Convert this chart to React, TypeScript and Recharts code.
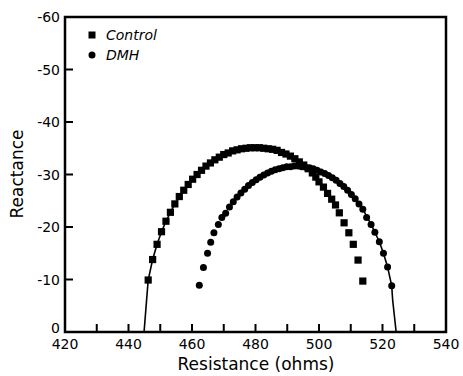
import React from "react";
import {
  ScatterChart,
  Scatter,
  XAxis,
  YAxis,
  ReferenceArea,
} from "recharts";

// Control (squares)
const controlX = [
  446.2, 447.6, 449.0, 450.4, 451.8, 453.2, 454.6, 456.0, 457.4, 458.8, 460.2,
  461.6, 463.0, 464.4, 465.8, 467.2, 468.6, 470.0, 471.4, 472.8, 474.2, 475.6,
  477.0, 478.4, 479.8, 481.2, 482.6, 484.0, 485.4, 486.8, 488.2, 489.6, 491.0,
  492.4, 493.8, 495.2, 496.6, 497.9, 499.0, 500.0, 501.4, 502.7, 504.0, 505.2,
  506.4, 507.9, 509.4, 510.8, 512.3, 513.8,
];
const controlY = [
  -9.9, -13.8, -16.7, -19.1, -21.1, -22.8, -24.4, -25.8, -27.0, -28.1, -29.1,
  -30.0, -30.8, -31.6, -32.2, -32.8, -33.3, -33.8, -34.1, -34.5, -34.7, -34.9,
  -35.0, -35.1, -35.1, -35.1, -35.0, -34.9, -34.8, -34.6, -34.2, -33.9, -33.5,
  -33.0, -32.4, -31.8, -31.1, -30.3, -29.5, -28.6, -27.6, -26.4, -25.3, -24.2,
  -22.7, -20.8, -18.9, -16.7, -13.7, -9.7,
];

// DMH (circles)
const dmhX = [
  462.3, 463.6, 464.9, 465.9, 466.9, 468.3, 469.4, 470.6, 471.8, 473.0, 474.2,
  475.4, 476.6, 477.8, 479.0, 480.2, 481.4, 482.6, 483.8, 485.0, 486.2, 487.4,
  488.6, 489.8, 491.0, 492.2, 493.4, 494.6, 495.8, 497.0, 498.2, 499.4, 500.6,
  501.8, 503.0, 504.2, 505.4, 506.6, 507.8, 509.0, 510.2, 511.4, 512.6, 513.8,
  515.0, 516.4, 517.6, 519.0, 520.3, 521.6, 522.9,
];
const dmhY = [
  -8.9, -12.3, -15.0, -17.1, -18.9, -20.5, -21.8, -22.6, -23.8, -24.8, -25.7,
  -26.5, -27.2, -27.9, -28.5, -29.0, -29.5, -29.9, -30.3, -30.6, -30.9, -31.1,
  -31.3, -31.5, -31.5, -31.6, -31.6, -31.5, -31.4, -31.3, -31.1, -30.8, -30.5,
  -30.2, -29.8, -29.4, -28.9, -28.3, -27.7, -27.0, -26.2, -25.4, -24.4, -23.4,
  -21.8, -20.5, -19.0, -17.2, -15.0, -12.4, -8.8,
];

// solid curve drawn through the outer points
const fitX = [
  444.9, 445.7, 446.2, 447.6, 449.0, 450.4, 451.8, 454.6, 458.8, 463.0, 467.2,
  471.4, 475.6, 479.8, 484.0, 488.2, 492.4, 495.8, 499.4, 503.0, 506.6, 510.2,
  513.8, 516.4, 517.6, 519.0, 520.3, 521.6, 522.9, 523.2, 524.3,
];
const fitY = [
  0, -6.1, -9.9, -13.8, -16.7, -19.1, -21.1, -24.4, -28.1, -30.8, -32.8, -34.1,
  -34.9, -35.1, -34.9, -34.2, -33.0, -31.4, -30.8, -29.8, -28.3, -26.2, -23.4,
  -20.5, -19.0, -17.2, -15.0, -12.4, -8.8, -6.1, 0,
];

const xTicks = [420, 430, 440, 450, 460, 470, 480, 490, 500, 510, 520, 530, 540];
const yTicks = [-60, -50, -40, -30, -20, -10, 0];
const seriesNames = ["Control", "DMH"];

const zip = (xs: number[], ys: number[]) => xs.map((x, i) => ({ x, y: ys[i] }));
const controlData = zip(controlX, controlY);
const dmhData = zip(dmhX, dmhY);
const fitData = zip(fitX, fitY);

const FONT = "'DejaVu Sans', sans-serif";

const XTick = (props: any) => {
  const { x, y, payload } = props;
  const v = payload.value;
  return (
    <g>
      {v !== 420 && v !== 540 && (
        <line x1={x} x2={x} y1={y} y2={y - 8} stroke="#000" strokeWidth={2} />
      )}
      {v % 20 === 0 && (
        <text x={x} y={y + 17} textAnchor="middle" fontSize={14} fontFamily={FONT} fill="#000">
          {v}
        </text>
      )}
    </g>
  );
};

const YTick = (props: any) => {
  const { x, y, payload } = props;
  const v = payload.value;
  return (
    <g>
      {v !== 0 && v !== -60 && (
        <line x1={x} x2={x + 8} y1={y} y2={y} stroke="#000" strokeWidth={2} />
      )}
      <text
        x={x - 5}
        y={v === 0 ? y + 1 : y + 5}
        textAnchor="end"
        fontSize={14}
        fontFamily={FONT}
        fill="#000"
      >
        {v}
      </text>
    </g>
  );
};

const Square = (p: any) => (
  <rect x={p.cx - 3.6} y={p.cy - 3.6} width={7.2} height={7.2} fill="#000" />
);
const Dot = (p: any) => <circle cx={p.cx} cy={p.cy} r={3.5} fill="#000" />;
const Nothing = () => <g />;

export default function App() {
  return (
    <div
      style={{
        position: "absolute",
        left: 0,
        top: 0,
        width: 463,
        height: 376,
        background: "#fff",
        fontFamily: FONT,
      }}
    >
      <ScatterChart
        width={463}
        height={376}
        margin={{ top: 17, right: 17, bottom: 0, left: 5 }}
      >
        <XAxis
          type="number"
          dataKey="x"
          domain={[420, 540]}
          ticks={xTicks}
          interval={0}
          tickSize={0}
          tickMargin={0}
          tickLine={false}
          axisLine={false}
          tick={<XTick />}
          height={44}
          allowDataOverflow
          label={{
            content: () => (
              <text
                x={256}
                y={370}
                textAnchor="middle"
                fontSize={17}
                fontFamily={FONT}
                fill="#000"
              >
                Resistance (ohms)
              </text>
            ),
          }}
        />
        <YAxis
          type="number"
          dataKey="y"
          domain={[-60, 0]}
          reversed
          ticks={yTicks}
          interval={0}
          tickSize={0}
          tickMargin={0}
          tickLine={false}
          axisLine={false}
          tick={<YTick />}
          width={60}
          allowDataOverflow
          label={{
            content: () => (
              <text
                x={23}
                y={174}
                transform="rotate(-90 23 174)"
                textAnchor="middle"
                fontSize={17}
                fontFamily={FONT}
                fill="#000"
              >
                Reactance
              </text>
            ),
          }}
        />
        <ReferenceArea
          x1={420}
          x2={540}
          y1={-60}
          y2={0}
          fill="#fff"
          fillOpacity={0}
          stroke="#000"
          strokeWidth={2.5}
        />
        <Scatter
          name="fit"
          data={fitData}
          line={{ stroke: "#000", strokeWidth: 1.6 }}
          shape={<Nothing />}
          legendType="none"
          isAnimationActive={false}
        />
        <Scatter
          name="Control"
          data={controlData}
          fill="#000"
          shape={<Square />}
          isAnimationActive={false}
        />
        <Scatter
          name="DMH"
          data={dmhData}
          fill="#000"
          shape={<Dot />}
          isAnimationActive={false}
        />
      </ScatterChart>
      <div style={{ position: "absolute", left: 88, top: 25 }}>
        {seriesNames.map((name) => (
          <div key={name} style={{ display: "flex", alignItems: "center", height: 20 }}>
            <svg width={8} height={8} style={{ marginRight: 10 }}>
              {name === "Control" ? (
                <rect x={0.5} y={0.5} width={7} height={7} fill="#000" />
              ) : (
                <circle cx={4} cy={4} r={3.5} fill="#000" />
              )}
            </svg>
            <span style={{ fontFamily: FONT, fontStyle: "italic", fontSize: 14, color: "#000" }}>
              {name}
            </span>
          </div>
        ))}
      </div>
    </div>
  );
}
